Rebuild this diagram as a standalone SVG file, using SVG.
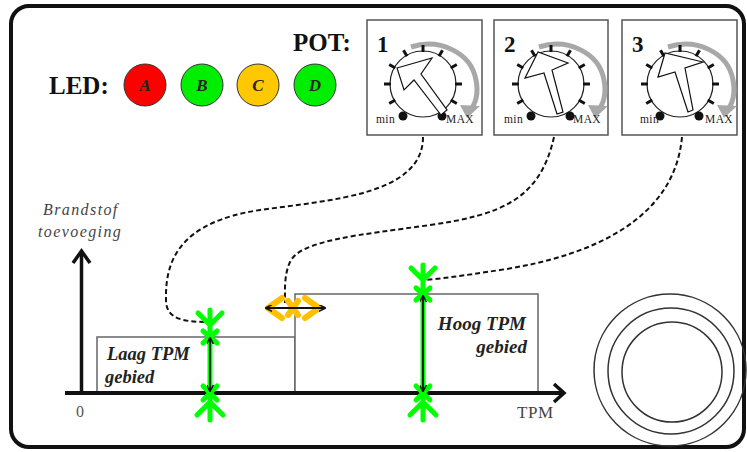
<svg xmlns="http://www.w3.org/2000/svg" width="747" height="452" viewBox="0 0 747 452">
<style>
.lbl{font-family:"Liberation Serif",serif;font-weight:bold;fill:#111}
.it{font-family:"Liberation Serif",serif;font-style:italic;fill:#444}
.bi{font-family:"Liberation Serif",serif;font-style:italic;font-weight:bold;fill:#222}
.sm{font-family:"Liberation Serif",serif;font-size:11.5px;fill:#222;letter-spacing:0.4px}
.box{fill:#fff;stroke:#555;stroke-width:1.5}
.tick{stroke:#111;stroke-width:3}
.ptr{fill:#fff;stroke:#111;stroke-width:1.2;stroke-linejoin:miter}
.dash{fill:none;stroke:#111;stroke-width:2;stroke-dasharray:5 3}
.grn{fill:none;stroke:#00ff00;stroke-width:5;stroke-linecap:round;stroke-linejoin:round}
.org{fill:none;stroke:#ffc000;stroke-width:6;stroke-linecap:round;stroke-linejoin:round}
.blk{fill:none;stroke:#111;stroke-width:1.8}
.area{fill:#fff;stroke:#666;stroke-width:1.5}
.led{stroke:#333;stroke-width:1}
.ring{fill:none;stroke:#333;stroke-width:1.5}
</style>
<defs>
<marker id="ah" viewBox="0 0 10 10" refX="9" refY="5" markerWidth="7" markerHeight="7" orient="auto-start-reverse" markerUnits="userSpaceOnUse">
<path d="M0 0 L10 5 L0 10" fill="none" stroke="#111" stroke-width="2"/>
</marker>
<g id="dial">
<path d="M-12 -37 C16 -46 48 -32 53 -4 C56 11 52 21 46 28" fill="none" stroke="#a8a8a8" stroke-width="5"/>
<polygon points="37,21 57,22 44,34" fill="#a8a8a8"/>
<circle cx="0" cy="0" r="33" fill="#fff" stroke="#222" stroke-width="1.2"/>
<line class="tick" x1="-27.7" y1="16" x2="-33.8" y2="19.5"/>
<line class="tick" x1="-32" y1="0" x2="-39" y2="0"/>
<line class="tick" x1="-27.7" y1="-16" x2="-33.8" y2="-19.5"/>
<line class="tick" x1="-16" y1="-27.7" x2="-19.5" y2="-33.8"/>
<line class="tick" x1="0" y1="-32" x2="0" y2="-39"/>
<line class="tick" x1="16" y1="-27.7" x2="19.5" y2="-33.8"/>
<line class="tick" x1="27.7" y1="-16" x2="33.8" y2="-19.5"/>
<line class="tick" x1="32" y1="0" x2="39" y2="0"/>
<line class="tick" x1="27.7" y1="16" x2="33.8" y2="19.5"/>
<circle cx="-20" cy="32" r="4.5" fill="#111"/>
<circle cx="19" cy="32" r="4.5" fill="#111"/>
</g>
</defs>
<rect x="0" y="0" width="747" height="452" fill="#fff"/>
<rect x="11" y="6" width="733" height="441" rx="18" fill="#fff" stroke="#111" stroke-width="4"/>

<g id="legend">
<text class="lbl" x="293" y="51" font-size="25">POT:</text>
<text class="lbl" x="49" y="94" font-size="25">LED:</text>
</g>
<g id="led-a"><circle class="led" cx="145" cy="85" r="21" fill="#ff0000"/><text class="bi" x="145" y="91" font-size="17" text-anchor="middle" fill="#111">A</text></g>
<g id="led-b"><circle class="led" cx="202" cy="85" r="21" fill="#00ee00"/><text class="bi" x="202" y="91" font-size="17" text-anchor="middle">B</text></g>
<g id="led-c"><circle class="led" cx="258" cy="85" r="21" fill="#ffc800"/><text class="bi" x="258" y="91" font-size="17" text-anchor="middle">C</text></g>
<g id="led-d"><circle class="led" cx="315" cy="85" r="21" fill="#00ee00"/><text class="bi" x="315" y="91" font-size="17" text-anchor="middle">D</text></g>

<g id="pot-1">
<rect class="box" x="367" y="20" width="115" height="115"/>
<text class="lbl" x="377" y="52" font-size="23">1</text>
<use href="#dial" x="423" y="84"/>
<polygon class="ptr" points="397,68 432,58 421,74 447,110 441,115 414,80 404,90"/>
<text class="sm" x="376" y="123">min</text>
<text class="sm" x="446" y="123">MAX</text>
</g>
<g id="pot-2">
<rect class="box" x="494" y="20" width="114" height="115"/>
<text class="lbl" x="504" y="52" font-size="23">2</text>
<use href="#dial" x="551" y="84"/>
<polygon class="ptr" points="525,78 538,52 568,63 552,70 563,112 557,114 544,73"/>
<text class="sm" x="504" y="123">min</text>
<text class="sm" x="573" y="123">MAX</text>
</g>
<g id="pot-3">
<rect class="box" x="622" y="20" width="115" height="115"/>
<text class="lbl" x="632" y="52" font-size="23">3</text>
<use href="#dial" x="680" y="84"/>
<polygon class="ptr" points="658,77 665,53 703,62 685,68 693,110 688,112 675,72"/>
<text class="sm" x="640" y="123">min</text>
<text class="sm" x="705" y="123">MAX</text>
</g>

<g id="axis-label">
<text class="it" x="43" y="215" font-size="16" letter-spacing="1.4">Brandstof</text>
<text class="it" x="38" y="237" font-size="16" letter-spacing="1.4">toevoeging</text>
<text x="80" y="417" font-family="Liberation Serif, serif" font-size="16" fill="#555" text-anchor="middle">0</text>
<text x="517" y="418" font-family="Liberation Serif, serif" font-size="17" fill="#444" letter-spacing="0.6">TPM</text>
</g>

<g id="laag-area">
<rect class="area" x="97" y="337" width="198" height="56"/>
<text class="bi" x="107" y="360" font-size="18.5">Laag TPM</text>
<text class="bi" x="105" y="383" font-size="18.5">gebied</text>
</g>
<g id="hoog-area">
<rect class="area" x="295" y="294" width="243" height="99"/>
<text class="bi" x="526" y="330" font-size="19" text-anchor="end">Hoog TPM</text>
<text class="bi" x="527" y="353" font-size="19" text-anchor="end">gebied</text>
</g>

<g id="axes">
<line x1="81.5" y1="393" x2="81.5" y2="252" stroke="#111" stroke-width="3.5"/>
<polyline points="73,263 81.5,251 90,263" fill="none" stroke="#111" stroke-width="3.5"/>
<line x1="65" y1="393" x2="563" y2="393" stroke="#111" stroke-width="4"/>
<polyline points="554,384 564,393 554,402" fill="none" stroke="#111" stroke-width="3.5"/>
</g>

<g id="engine">
<circle class="ring" cx="670" cy="370" r="76"/>
<circle class="ring" cx="671" cy="371" r="63"/>
<circle class="ring" cx="672" cy="372" r="50"/>
</g>

<g id="connectors">
<path class="dash" d="M423 137 C423 195 330 200 260 210 C180 222 165 260 166 300 C166 320 185 322 210 322"/>
<path class="dash" d="M554 137 C540 200 500 215 430 225 C360 235 300 240 290 262 C284 275 285 290 285 303"/>
<path class="dash" d="M682 137 C675 215 600 255 500 270 C460 276 440 279 423 280"/>
</g>

<g id="marker-laag">
<path class="grn" d="M210 310 V420 M198 313 L210 325 L222 313 M203 331 L217 343 M217 331 L203 343 M203 386 L217 400 M217 386 L203 400 M197 415 L210 402 L223 415"/>
<line class="blk" x1="210" y1="338" x2="210" y2="391" marker-start="url(#ah)" marker-end="url(#ah)"/>
</g>
<g id="marker-hoog">
<path class="grn" d="M423 265 V420 M411 268 L423 280 L435 268 M416 288 L430 300 M430 288 L416 300 M416 386 L430 400 M430 386 L416 400 M410 415 L423 402 L436 415"/>
<line class="blk" x1="423" y1="296" x2="423" y2="391" marker-start="url(#ah)" marker-end="url(#ah)"/>
</g>
<g id="marker-grens">
<path class="org" d="M282 298 L268 308 L282 318 M305 298 L319 308 L305 318 M288 301 L293 308 L288 315 M298 301 L293 308 L298 315"/>
<line class="blk" x1="266" y1="308" x2="325" y2="308" marker-start="url(#ah)" marker-end="url(#ah)"/>
</g>
</svg>
